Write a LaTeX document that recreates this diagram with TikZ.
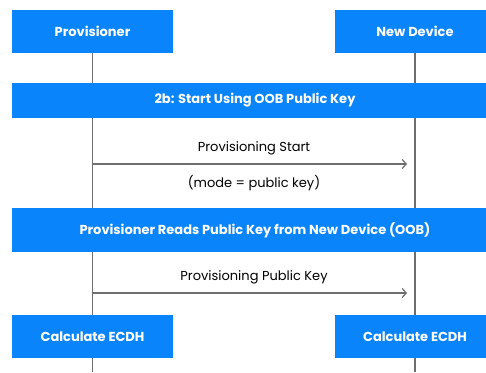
\documentclass[tikz,border=0pt]{standalone}
\usepackage{fontspec}
\setmainfont{Poppins}
\usetikzlibrary{arrows.meta,backgrounds}
\definecolor{boxblue}{HTML}{0A84FA}
\definecolor{lifegray}{HTML}{6E6E6E}
\tikzset{
  actor/.style={fill=boxblue, draw=none, minimum width=161pt, minimum height=43pt, inner sep=0pt, text=white, font=\fontsize{13}{15}\selectfont\bfseries},
  banner/.style={fill=boxblue, draw=none, minimum width=486pt, minimum height=35pt, inner sep=0pt, text=white, font=\fontsize{13}{15}\selectfont\bfseries},
  lifeline/.style={draw=lifegray, line width=1.3pt},
  msg/.style={draw=lifegray, line width=1.2pt, -{Straight Barb[length=4pt,width=9pt,line width=1.2pt]}},
  msglabel/.style={text=black, inner sep=0pt, font=\fontsize{13}{15}\selectfont}
}
\begin{document}
\begin{tikzpicture}[x=1pt,y=-1pt]
\useasboundingbox (0,0) rectangle (486,372);
\node[actor] (prov) at (92.5,31.5) {Provisioner};
\node[actor] (dev) at (415,31.5) {New Device};
\node[banner] (b1) at (255,100.5) {2b: Start Using OOB Public Key};
\node[banner, minimum height=44pt] (b2) at (255,230) {Provisioner Reads Public Key from New Device (OOB)};
\node[actor] (ecdh1) at (92.5,336.5) {Calculate ECDH};
\node[actor] (ecdh2) at (415,336.5) {Calculate ECDH};
\coordinate (provEnd) at (92.5,372);
\coordinate (devEnd) at (415,372);
\begin{scope}[on background layer]
\fill[white] (0,0) rectangle (486,372);
\draw[lifeline] (prov.south) -- (provEnd);
\draw[lifeline] (dev.south) -- (devEnd);
\end{scope}
\coordinate (m1s) at (92.5,164);
\coordinate (m1e) at (407,164);
\coordinate (m2s) at (92.5,293);
\coordinate (m2e) at (407,293);
\draw[msg] (m1s) -- (m1e);
\draw[msg] (m2s) -- (m2e);
\node[msglabel] (l1) at (254,148) {Provisioning Start};
\node[msglabel] (l2) at (254,183) {(mode = public key)};
\node[msglabel] (l3) at (254,277) {Provisioning Public Key};
\end{tikzpicture}
\end{document}
